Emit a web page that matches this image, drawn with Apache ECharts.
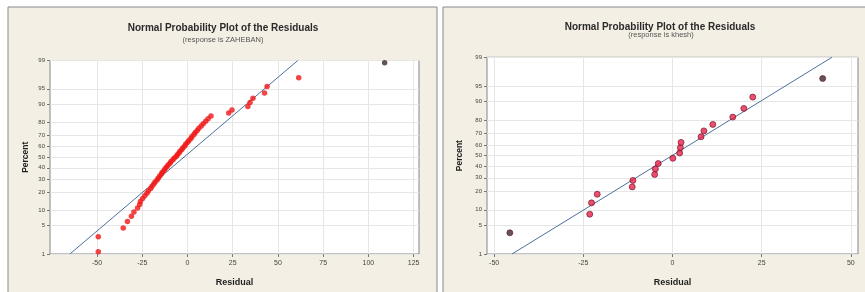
<!DOCTYPE html>
<html><head><meta charset="utf-8">
<script src="https://cdn.jsdelivr.net/npm/echarts@6/dist/echarts.min.js"></script>
<style>html,body{margin:0;padding:0;background:#fff}#c{width:865px;height:292px}</style>
</head><body><div id="c"></div>
<script>
// ---- data ----
const percentTicks = [1, 5, 10, 20, 30, 40, 50, 60, 70, 80, 90, 95, 99];
const leftXTicks = [-50, -25, 0, 25, 50, 75, 100, 125];
const rightXTicks = [-50, -25, 0, 25, 50];

const leftResidual = [-49.3, -49.3, -35.5, -33.2, -31.0, -29.6, -27.6, -26.4, -26.0, -24.8,
  -23.6, -22.4, -21.6, -20.3, -19.6, -18.6, -17.9, -16.8, -16.1, -15.3,
  -14.4, -13.9, -12.9, -12.3, -11.4, -10.7, -9.7, -9.1, -8.0, -7.3,
  -6.2, -5.6, -4.7, -4.1, -3.1, -2.5, -1.5, -0.9, 0.1, 0.8,
  1.9, 2.5, 3.6, 4.3, 5.4, 6.3, 7.6, 8.7, 10.1, 11.4,
  13.0, 22.8, 24.6, 33.4, 34.6, 36.2, 42.6, 44.0, 61.5, 109.0];
const leftPercent = [1.16, 2.81, 4.47, 6.13, 7.78, 9.44, 11.09, 12.75, 14.40, 16.06,
  17.72, 19.37, 21.03, 22.68, 24.34, 25.99, 27.65, 29.30, 30.96, 32.62,
  34.27, 35.93, 37.58, 39.24, 40.89, 42.55, 44.21, 45.86, 47.52, 49.17,
  50.83, 52.48, 54.14, 55.79, 57.45, 59.11, 60.76, 62.42, 64.07, 65.73,
  67.38, 69.04, 70.70, 72.35, 74.01, 75.66, 77.32, 78.97, 80.63, 82.28,
  83.94, 85.60, 87.25, 88.91, 90.56, 92.22, 93.87, 95.53, 97.19, 98.84];

const rightResidual = [-45.6, -23.2, -22.7, -21.1, -11.3, -11.1, -5.0, -4.8, -4.0, 0.1,
  2.0, 2.2, 2.4, 8.0, 8.8, 11.3, 16.9, 20.0, 22.5, 42.1];
const rightPercent = [3.4, 8.3, 13.2, 18.1, 23.0, 27.9, 32.8, 37.7, 42.6, 47.5,
  52.5, 57.4, 62.3, 67.2, 72.1, 77.0, 81.9, 86.8, 91.7, 96.6];

const leftFitResidual = [-65, 61];
const leftFitPercent = [1, 99];
const rightFitResidual = [-45, 44.7];
const rightFitPercent = [1, 99];

// ---- normal probability scale (inverse normal CDF) ----
function probit(p) {
  const a = [-3.969683028665376e+01, 2.209460984245205e+02, -2.759285104469687e+02, 1.383577518672690e+02, -3.066479806614716e+01, 2.506628277459239e+00];
  const b = [-5.447609879822406e+01, 1.615858368580409e+02, -1.556989798598866e+02, 6.680131188771972e+01, -1.328068155288572e+01];
  const c = [-7.784894002430293e-03, -3.223964580411365e-01, -2.400758277161838e+00, -2.549732539343734e+00, 4.374664141464968e+00, 2.938163982698783e+00];
  const d = [7.784695709041462e-03, 3.224671290700398e-01, 2.445134137142996e+00, 3.754408661907416e+00];
  const pl = 0.02425, ph = 1 - pl;
  let q, r;
  if (p < pl) { q = Math.sqrt(-2 * Math.log(p)); return (((((c[0]*q+c[1])*q+c[2])*q+c[3])*q+c[4])*q+c[5]) / ((((d[0]*q+d[1])*q+d[2])*q+d[3])*q+1); }
  if (p <= ph) { q = p - 0.5; r = q*q; return (((((a[0]*r+a[1])*r+a[2])*r+a[3])*r+a[4])*r+a[5])*q / (((((b[0]*r+b[1])*r+b[2])*r+b[3])*r+b[4])*r+1); }
  q = Math.sqrt(-2 * Math.log(1 - p)); return -(((((c[0]*q+c[1])*q+c[2])*q+c[3])*q+c[4])*q+c[5]) / ((((d[0]*q+d[1])*q+d[2])*q+d[3])*q+1);
}
const zOf = pct => probit(pct / 100);
const zTicks = percentTicks.map(zOf);
const zMin = zOf(1), zMax = zOf(99);
function pctLabel(v) {
  let best = 0, bd = 1e9;
  zTicks.forEach((t, i) => { const dd = Math.abs(t - v); if (dd < bd) { bd = dd; best = i; } });
  return String(percentTicks[best]);
}

const FONT = '"Liberation Sans", Arial, sans-serif';
const gridLine = { show: true, lineStyle: { color: '#e6e6e6', width: 1 } };

function xAxis(gi, min, max, ticks) {
  return {
    gridIndex: gi, type: 'value', min: min, max: max,
    name: 'Residual', nameLocation: 'middle', nameGap: 24,
    nameTextStyle: { fontFamily: FONT, fontSize: 9, fontWeight: 'bold', color: '#222' },
    axisLine: { show: false, onZero: false },
    axisTick: { show: true, length: 3, customValues: ticks, lineStyle: { color: '#777' } },
    axisLabel: { customValues: ticks, fontFamily: FONT, fontSize: 7, color: '#444', margin: 6 },
    splitLine: gridLine
  };
}
function yAxis(gi, gap) {
  return {
    gridIndex: gi, type: 'value', min: zMin, max: zMax,
    name: 'Percent', nameLocation: 'middle', nameGap: gap,
    nameTextStyle: { fontFamily: FONT, fontSize: 8.5, fontWeight: 'bold', color: '#222' },
    axisLine: { show: false, onZero: false },
    axisTick: { show: true, length: 3, customValues: zTicks, lineStyle: { color: '#777' } },
    axisLabel: { customValues: zTicks, formatter: pctLabel, fontFamily: FONT, fontSize: 6, color: '#444', margin: 5 },
    splitLine: gridLine
  };
}
function pts(res, pct) { return res.map((r, i) => [r, zOf(pct[i])]); }

const chart = echarts.init(document.getElementById('c'), null, { renderer: 'canvas' });
chart.setOption({
  animation: false,
  backgroundColor: '#ffffff',
  graphic: [
    { type: 'rect', z: -10, shape: { x: 8, y: 7, width: 429, height: 292 }, style: { fill: '#f3efe5', stroke: '#8a8a8a', lineWidth: 1 } },
    { type: 'rect', z: -10, shape: { x: 443, y: 7, width: 425, height: 292 }, style: { fill: '#f3efe5', stroke: '#8a8a8a', lineWidth: 1 } },
    { type: 'text', x: 223, y: 28, style: { text: 'Normal Probability Plot of the Residuals', font: 'bold 10px ' + FONT, fill: '#2a2a2a', textAlign: 'center', textVerticalAlign: 'middle' } },
    { type: 'text', x: 223, y: 40, style: { text: '(response is ZAHEBAN)', font: '7.5px ' + FONT, fill: '#555', textAlign: 'center', textVerticalAlign: 'middle' } },
    { type: 'text', x: 660, y: 27, style: { text: 'Normal Probability Plot of the Residuals', font: 'bold 10px ' + FONT, fill: '#2a2a2a', textAlign: 'center', textVerticalAlign: 'middle' } },
    { type: 'text', x: 661, y: 35, style: { text: '(response is khesh)', font: '7.5px ' + FONT, fill: '#555', textAlign: 'center', textVerticalAlign: 'middle' } }
  ],
  grid: [
    { left: 50, top: 60.5, width: 369, height: 193.5, show: true, backgroundColor: '#ffffff', borderColor: '#858585', borderWidth: 1 },
    { left: 487, top: 57.3, width: 371, height: 196.7, show: true, backgroundColor: '#ffffff', borderColor: '#858585', borderWidth: 1 }
  ],
  xAxis: [xAxis(0, -76, 128, leftXTicks), xAxis(1, -52, 52, rightXTicks)],
  yAxis: [yAxis(0, 20), yAxis(1, 23)],
  series: [
    { type: 'line', xAxisIndex: 0, yAxisIndex: 0, data: pts(leftFitResidual, leftFitPercent), showSymbol: false, lineStyle: { color: '#4d6f9c', width: 1 }, z: 2 },
    { type: 'scatter', xAxisIndex: 0, yAxisIndex: 0, data: pts(leftResidual, leftPercent), symbolSize: 5.5,
      itemStyle: { color: p => p.dataIndex === leftResidual.length - 1 ? '#3a2a2a' : '#f01616' }, z: 3 },
    { type: 'line', xAxisIndex: 1, yAxisIndex: 1, data: pts(rightFitResidual, rightFitPercent), showSymbol: false, lineStyle: { color: '#4d6f9c', width: 1 }, z: 2 },
    { type: 'scatter', xAxisIndex: 1, yAxisIndex: 1, data: pts(rightResidual, rightPercent), symbolSize: 6,
      itemStyle: { color: p => (p.dataIndex === 0 || p.dataIndex === rightResidual.length - 1) ? '#3a2a2a' : '#e8204a', borderColor: '#6a1020', borderWidth: 0.8 }, z: 3 }
  ]
});
</script>
</body></html>
